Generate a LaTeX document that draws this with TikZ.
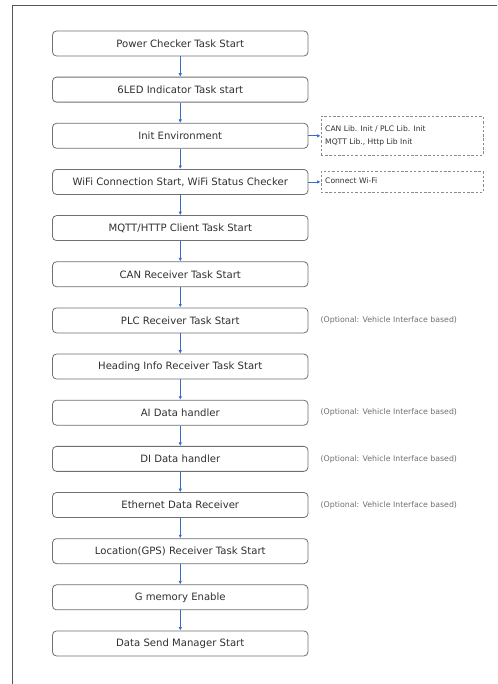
\documentclass[tikz,border=0pt]{standalone}
\usepackage{fontspec}
\setmainfont{DejaVu Sans}
\usetikzlibrary{arrows.meta}
\definecolor{boxline}{HTML}{707070}
\definecolor{dashline}{HTML}{8A8A8A}
\definecolor{boxtext}{HTML}{303030}
\definecolor{arrblue}{HTML}{3A6BC8}
\definecolor{notegray}{HTML}{707070}
\definecolor{frameline}{HTML}{555555}
\begin{document}
\begin{tikzpicture}[x=1pt,y=-1pt,
  taskbox/.style={draw=boxline, line width=0.8pt, rounded corners=4pt, minimum width=255.5pt, minimum height=25pt, inner sep=0pt, font=\fontsize{10.1}{12}\selectfont, text=boxtext},
  flow/.style={draw=arrblue, line width=0.8pt, -{Latex[length=3.5pt,width=3.5pt]}},
  notebox/.style={draw=dashline, dash pattern=on 2.5pt off 1.8pt, line width=0.7pt, minimum width=162pt, inner sep=0pt, anchor=west},
  notetext/.style={font=\fontsize{7.6}{9}\selectfont, text=boxtext, anchor=west, inner sep=0pt},
  optnote/.style={font=\fontsize{7.8}{9}\selectfont, text=notegray, anchor=west, inner sep=0pt}]
\useasboundingbox (0,0) rectangle (497,684);
\fill[white] (0,0) rectangle (497,684);
\draw[frameline, line width=0.8pt] (12,684) -- (12,5) -- (497,5);
\def\cx{180.25}
\node[taskbox] (b0) at (\cx,43.5) {Power Checker Task Start};
\node[taskbox] (b1) at (\cx,89.65) {6LED Indicator Task start};
\node[taskbox] (b2) at (\cx,135.8) {Init Environment};
\node[taskbox] (b3) at (\cx,181.95) {WiFi Connection Start, WiFi Status Checker};
\node[taskbox] (b4) at (\cx,228.1) {MQTT/HTTP Client Task Start};
\node[taskbox] (b5) at (\cx,274.25) {CAN Receiver Task Start};
\node[taskbox] (b6) at (\cx,320.4) {PLC Receiver Task Start};
\node[taskbox] (b7) at (\cx,366.55) {Heading Info Receiver Task Start};
\node[taskbox] (b8) at (\cx,412.7) {AI Data handler};
\node[taskbox] (b9) at (\cx,458.85) {DI Data handler};
\node[taskbox] (b10) at (\cx,505) {Ethernet Data Receiver};
\node[taskbox] (b11) at (\cx,551.15) {Location(GPS) Receiver Task Start};
\node[taskbox] (b12) at (\cx,597.3) {G memory Enable};
\node[taskbox] (b13) at (\cx,643.45) {Data Send Manager Start};
\foreach \a/\b in {b0/b1,b1/b2,b2/b3,b3/b4,b4/b5,b5/b6,b6/b7,b7/b8,b8/b9,b9/b10,b10/b11,b11/b12,b12/b13}
  \draw[flow] (\a.south) -- (\b.north);
% dashed side boxes
\node[notebox, minimum height=39pt] (n1) at (320.5,135.8) {};
\node[notetext] (n1a) at (325,128.5) {CAN Lib. Init / PLC Lib. Init};
\node[notetext] (n1b) at (325,142) {MQTT Lib., Http Lib Init};
\node[notebox, minimum height=21pt] (n2) at (320.5,181.95) {};
\node[notetext] (n2a) at (325,180.5) {Connect Wi-Fi};
\draw[flow] (b2.east) -- (n1.west);
\draw[flow] (b3.east) -- (n2.west);
% optional notes
\node[optnote] (o6) at (320.5,320.4) {(Optional: Vehicle Interface based)};
\node[optnote] (o8) at (320.5,412.7) {(Optional: Vehicle Interface based)};
\node[optnote] (o9) at (320.5,458.85) {(Optional: Vehicle Interface based)};
\node[optnote] (o10) at (320.5,505) {(Optional: Vehicle Interface based)};
\end{tikzpicture}
\end{document}
